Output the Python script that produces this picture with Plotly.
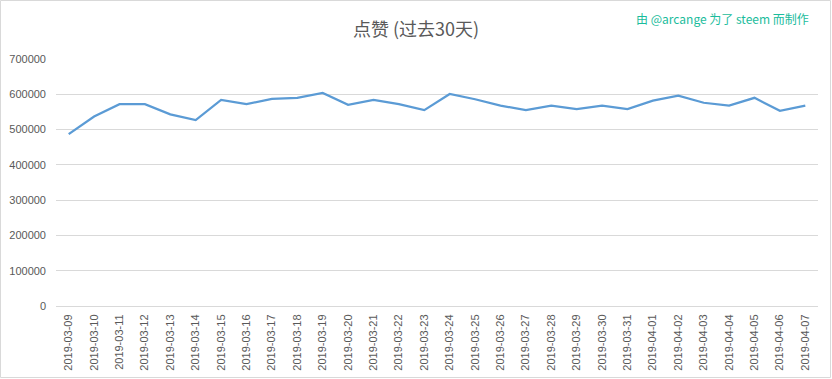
import plotly.graph_objects as go

dates = ["2019-03-09","2019-03-10","2019-03-11","2019-03-12","2019-03-13","2019-03-14",
         "2019-03-15","2019-03-16","2019-03-17","2019-03-18","2019-03-19","2019-03-20",
         "2019-03-21","2019-03-22","2019-03-23","2019-03-24","2019-03-25","2019-03-26",
         "2019-03-27","2019-03-28","2019-03-29","2019-03-30","2019-03-31","2019-04-01",
         "2019-04-02","2019-04-03","2019-04-04","2019-04-05","2019-04-06","2019-04-07"]
votes = [487000, 537000, 572000, 572000, 543000, 527000,
         584000, 572000, 587000, 590000, 604000, 570000,
         584000, 572000, 555000, 601000, 586000, 568000,
         555000, 568000, 558000, 568000, 558000, 582000,
         596000, 576000, 568000, 590000, 553000, 568000]

title_text = "点赞 (过去30天)"
credit_text = "由 @arcange 为了 steem 而制作"

W, H = 832, 379
L, R, T, B = 56, 14, 59, 73
pw, ph = W - L - R, H - T - B

fig = go.Figure()
fig.add_trace(go.Scatter(x=dates, y=votes, mode="lines",
                         line=dict(color="#5b9bd5", width=2.25),
                         hoverinfo="x+y"))

fig.update_layout(
    width=W, height=H,
    margin=dict(l=L, r=R, t=T, b=B, autoexpand=False),
    paper_bgcolor="white", plot_bgcolor="white",
    showlegend=False,
    font=dict(family="Liberation Sans, Arial, sans-serif", color="#595959", size=10),
    title=dict(text=title_text, x=(415 - L) / pw * 0 + 0.5, xanchor="center", y=1 - 30 / H, yanchor="middle",
               font=dict(family="Noto Sans CJK SC", size=18, color="#595959")),
    xaxis=dict(type="category", tickangle=-90, showgrid=False, showline=True,
               linecolor="#d9d9d9", linewidth=1, ticks="", automargin=False,
               ticklabelstandoff=3,
               tickfont=dict(size=11, color="#595959"),
               range=[-0.5, len(dates) - 0.5]),
    yaxis=dict(range=[0, 700000], dtick=100000, tickformat="d", showgrid=True,
               gridcolor="#d9d9d9", gridwidth=1, zeroline=False, showline=False,
               ticks="", automargin=False, ticklabelstandoff=9,
               tickfont=dict(size=11, color="#595959")),
    annotations=[dict(text=credit_text, xref="paper", yref="paper",
                      x=(811 - L) / pw, y=1 + (T - 18) / ph, xanchor="right", yanchor="middle",
                      showarrow=False,
                      font=dict(family="Noto Sans CJK SC", size=12, color="#1abc9c"))],
    shapes=[dict(type="rect", xref="paper", yref="paper",
                 x0=(0.5 - L) / pw, x1=(W - 1.5 - L) / pw,
                 y0=-(B - 1.5) / ph, y1=1 + (T - 0.5) / ph,
                 line=dict(color="#d9d9d9", width=1), layer="below")],
)

fig.write_html("out.html", config={"displayModeBar": False},
               post_script="document.body.style.margin='0';")
